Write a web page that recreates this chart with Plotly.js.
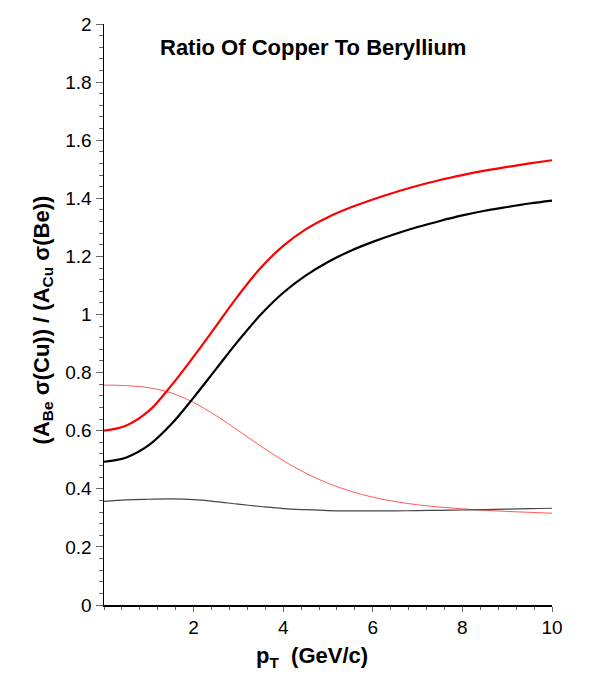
<!DOCTYPE html>
<html>
<head>
<meta charset="utf-8">
<script src="https://cdn.plot.ly/plotly-3.0.1.min.js"></script>
<style>html,body{margin:0;padding:0;background:#fff}#chart{width:600px;height:675px}</style>
</head>
<body>
<div id="chart"></div>
<script>
const pT = [0,0.5,1,1.5,2,2.5,3,3.5,4,4.5,5,5.5,6,6.5,7,7.5,8,8.5,9,9.5,10];
const redThick = [0.600,0.618,0.668,0.755,0.855,0.960,1.066,1.161,1.236,1.293,1.335,1.368,1.396,1.421,1.443,1.463,1.480,1.495,1.508,1.520,1.531];
const blackThick = [0.493,0.508,0.550,0.622,0.714,0.812,0.910,1.000,1.075,1.134,1.181,1.219,1.250,1.277,1.301,1.322,1.341,1.357,1.370,1.382,1.392];
const redThin = [0.757,0.755,0.748,0.730,0.697,0.652,0.600,0.547,0.497,0.454,0.419,0.392,0.371,0.356,0.345,0.337,0.331,0.326,0.322,0.319,0.316];
const blackThin = [0.357,0.362,0.364,0.365,0.363,0.356,0.347,0.339,0.332,0.328,0.325,0.324,0.324,0.324,0.325,0.326,0.327,0.328,0.330,0.332,0.333];
const xTickVals = [2,4,6,8,10];
const titleText = 'Ratio Of Copper To Beryllium';
const xTitle = 'p<sub>T</sub>&nbsp;&nbsp;(GeV/c)';
const yTitle = '(A<sub>Be</sub> σ(Cu)) / (A<sub>Cu</sub> σ(Be))';

const FONT = '"Liberation Sans", Arial, Helvetica, sans-serif';
function tr(y, color, width){
  return {x: pT, y: y, type:'scatter', mode:'lines', line:{color:color, width:width, shape:'spline', smoothing:1}, hoverinfo:'skip'};
}
const data = [
  tr(redThin, '#ff5a5a', 1),
  tr(blackThin, '#444444', 1.2),
  tr(redThick, '#ff0000', 2.2),
  tr(blackThick, '#000000', 2.2)
];
const layout = {
  width:600, height:675,
  margin:{l:104, r:48, t:24, b:70, pad:0},
  paper_bgcolor:'#fff', plot_bgcolor:'#fff',
  showlegend:false,
  font:{family:FONT, color:'#000', size:19},
  xaxis:{
    range:[0,10], showgrid:false, zeroline:false,
    showline:true, linecolor:'#000', linewidth:1.5,
    tickmode:'array', tickvals:xTickVals,
    ticks:'outside', ticklen:5, tickcolor:'#666', tickwidth:1,
    minor:{dtick:0.4, tick0:0, ticks:'outside', ticklen:3, tickcolor:'#666', tickwidth:1},
    tickfont:{size:19, family:FONT}
  },
  yaxis:{
    range:[0,2], showgrid:false, zeroline:false,
    showline:true, linecolor:'#000', linewidth:1.5,
    dtick:0.2, tick0:0,
    ticks:'outside', ticklen:7, tickcolor:'#666', tickwidth:1,
    minor:{dtick:0.04, tick0:0, ticks:'outside', ticklen:4, tickcolor:'#666', tickwidth:1},
    tickfont:{size:19, family:FONT}
  },
  annotations:[
    {text:'<b>'+titleText+'</b>', xref:'paper', yref:'paper', x:0.466, y:0.959,
     xanchor:'center', yanchor:'middle', showarrow:false, font:{size:22, family:FONT, color:'#000'}},
    {text:'<b>'+xTitle+'</b>', xref:'paper', yref:'paper', x:0.465, y:-0.089,
     xanchor:'center', yanchor:'middle', showarrow:false, font:{size:22, family:FONT, color:'#000'}},
    {text:'<b>'+yTitle+'</b>', xref:'paper', yref:'paper', x:-0.136, y:0.49, textangle:-90,
     xanchor:'center', yanchor:'middle', showarrow:false, font:{size:22, family:FONT, color:'#000'}}
  ]
};
Plotly.newPlot('chart', data, layout, {displayModeBar:false, staticPlot:true});
</script>
</body>
</html>
